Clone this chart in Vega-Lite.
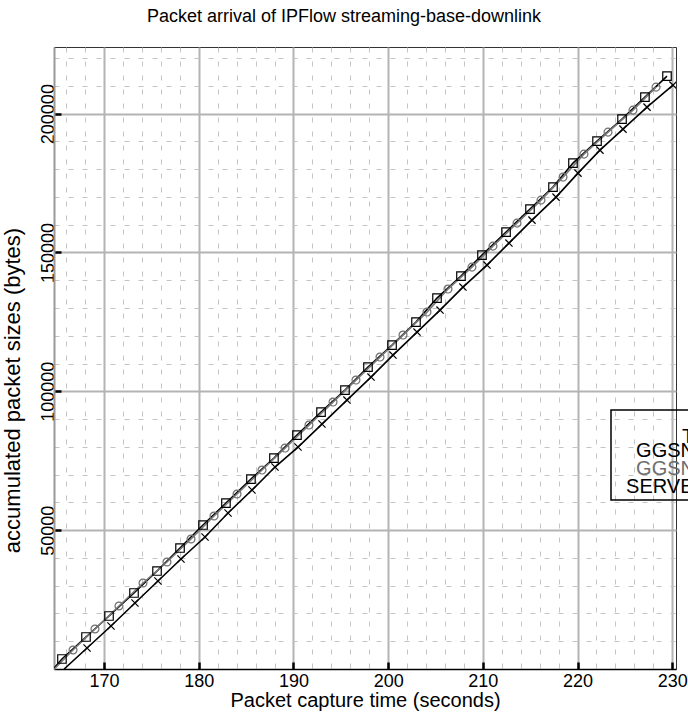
{
  "$schema": "https://vega.github.io/schema/vega-lite/v6.json",
  "width": 622,
  "height": 622,
  "autosize": {"type": "none"},
  "padding": {"left": 54, "top": 47, "right": 12, "bottom": 44},
  "background": "white",
  "config": {
    "font": "Liberation Sans",
    "view": {"stroke": "#333333", "strokeWidth": 1},
    "legend": {"strokeWidth": 1.5}
  },
  "title": {
    "text": "Packet arrival of IPFlow streaming-base-downlink",
    "font": "Liberation Sans",
    "fontSize": 18,
    "fontWeight": "normal",
    "color": "black",
    "anchor": "middle",
    "offset": 21,
    "dx": -21
  },
  "data": {
    "values": [
      {"s": "GGSN-1", "t": 164.71, "b": 300},
      {"s": "GGSN-1", "t": 165.55, "b": 3600},
      {"s": "GGSN-1", "t": 168.09, "b": 11522},
      {"s": "GGSN-1", "t": 170.52, "b": 19083},
      {"s": "GGSN-1", "t": 173.16, "b": 27364},
      {"s": "GGSN-1", "t": 175.59, "b": 35285},
      {"s": "GGSN-1", "t": 178.02, "b": 43566},
      {"s": "GGSN-1", "t": 180.45, "b": 51847},
      {"s": "GGSN-1", "t": 182.87, "b": 59768},
      {"s": "GGSN-1", "t": 185.51, "b": 68410},
      {"s": "GGSN-1", "t": 187.94, "b": 75971},
      {"s": "GGSN-1", "t": 190.37, "b": 84252},
      {"s": "GGSN-1", "t": 192.91, "b": 92533},
      {"s": "GGSN-1", "t": 195.44, "b": 100454},
      {"s": "GGSN-1", "t": 197.87, "b": 108735},
      {"s": "GGSN-1", "t": 200.41, "b": 116656},
      {"s": "GGSN-1", "t": 202.94, "b": 124937},
      {"s": "GGSN-1", "t": 205.16, "b": 133579},
      {"s": "GGSN-1", "t": 207.69, "b": 141500},
      {"s": "GGSN-1", "t": 209.91, "b": 149061},
      {"s": "GGSN-1", "t": 212.45, "b": 157342},
      {"s": "GGSN-1", "t": 214.98, "b": 165623},
      {"s": "GGSN-1", "t": 217.41, "b": 173544},
      {"s": "GGSN-1", "t": 219.52, "b": 182185},
      {"s": "GGSN-1", "t": 222.06, "b": 190106},
      {"s": "GGSN-1", "t": 224.70, "b": 198028},
      {"s": "GGSN-1", "t": 227.12, "b": 205949},
      {"s": "GGSN-1", "t": 229.45, "b": 213510},
      {"s": "GGSN-2", "t": 164.74, "b": 0},
      {"s": "GGSN-2", "t": 166.72, "b": 6841},
      {"s": "GGSN-2", "t": 169.04, "b": 14402},
      {"s": "GGSN-2", "t": 171.57, "b": 22683},
      {"s": "GGSN-2", "t": 174.11, "b": 30964},
      {"s": "GGSN-2", "t": 176.64, "b": 38525},
      {"s": "GGSN-2", "t": 179.18, "b": 46807},
      {"s": "GGSN-2", "t": 181.61, "b": 55088},
      {"s": "GGSN-2", "t": 184.04, "b": 63009},
      {"s": "GGSN-2", "t": 186.68, "b": 71650},
      {"s": "GGSN-2", "t": 189.11, "b": 79571},
      {"s": "GGSN-2", "t": 191.64, "b": 87852},
      {"s": "GGSN-2", "t": 194.18, "b": 96133},
      {"s": "GGSN-2", "t": 196.60, "b": 104054},
      {"s": "GGSN-2", "t": 199.14, "b": 112336},
      {"s": "GGSN-2", "t": 201.57, "b": 120257},
      {"s": "GGSN-2", "t": 204.10, "b": 128538},
      {"s": "GGSN-2", "t": 206.32, "b": 136819},
      {"s": "GGSN-2", "t": 208.85, "b": 144740},
      {"s": "GGSN-2", "t": 211.07, "b": 152301},
      {"s": "GGSN-2", "t": 213.61, "b": 160582},
      {"s": "GGSN-2", "t": 216.14, "b": 168863},
      {"s": "GGSN-2", "t": 218.47, "b": 177145},
      {"s": "GGSN-2", "t": 220.68, "b": 185426},
      {"s": "GGSN-2", "t": 223.22, "b": 193347},
      {"s": "GGSN-2", "t": 225.86, "b": 201268},
      {"s": "GGSN-2", "t": 228.29, "b": 209549},
      {"s": "SERVER", "t": 165.78, "b": 0},
      {"s": "SERVER", "t": 168.20, "b": 7561},
      {"s": "SERVER", "t": 170.73, "b": 15482},
      {"s": "SERVER", "t": 173.26, "b": 23763},
      {"s": "SERVER", "t": 175.69, "b": 31684},
      {"s": "SERVER", "t": 178.12, "b": 39606},
      {"s": "SERVER", "t": 180.66, "b": 47527},
      {"s": "SERVER", "t": 183.09, "b": 56168},
      {"s": "SERVER", "t": 185.62, "b": 64449},
      {"s": "SERVER", "t": 188.05, "b": 72730},
      {"s": "SERVER", "t": 190.48, "b": 79931},
      {"s": "SERVER", "t": 193.01, "b": 88212},
      {"s": "SERVER", "t": 195.65, "b": 96853},
      {"s": "SERVER", "t": 198.19, "b": 105135},
      {"s": "SERVER", "t": 200.51, "b": 113056},
      {"s": "SERVER", "t": 203.05, "b": 121337},
      {"s": "SERVER", "t": 205.48, "b": 129258},
      {"s": "SERVER", "t": 207.90, "b": 137539},
      {"s": "SERVER", "t": 210.44, "b": 145460},
      {"s": "SERVER", "t": 212.76, "b": 153381},
      {"s": "SERVER", "t": 215.19, "b": 161662},
      {"s": "SERVER", "t": 217.73, "b": 169944},
      {"s": "SERVER", "t": 220.05, "b": 178585},
      {"s": "SERVER", "t": 222.37, "b": 186866},
      {"s": "SERVER", "t": 224.80, "b": 194427},
      {"s": "SERVER", "t": 227.34, "b": 202348},
      {"s": "SERVER", "t": 230.08, "b": 210269}
    ]
  },
  "encoding": {
    "x": {
      "field": "t",
      "type": "quantitative",
      "scale": {"domain": [164.71, 230.4], "nice": false, "zero": false},
      "axis": {
        "orient": "bottom",
        "values": [166, 168, 170, 172, 174, 176, 178, 180, 182, 184, 186, 188, 190, 192, 194, 196, 198, 200, 202, 204, 206, 208, 210, 212, 214, 216, 218, 220, 222, 224, 226, 228, 230],
        "title": "Packet capture time (seconds)",
        "titleFont": "Liberation Sans",
        "titleFontSize": 20,
        "titleFontWeight": "normal",
        "titleColor": "black",
        "titleBaseline": "alphabetic",
        "titleY": 37,
        "labelExpr": "datum.value % 10 === 0 ? datum.label : ''",
        "labelFont": "Liberation Sans",
        "labelFontSize": 18,
        "labelColor": "black",
        "labelFlush": false,
        "labelOverlap": false,
        "labelBaseline": "top",
        "labelPadding": 10,
        "tickSize": -7,
        "tickWidth": 2.5,
        "tickColor": "black",
        "tickOpacity": {"condition": {"test": "datum.value % 10 !== 0", "value": 0}, "value": 1},
        "grid": true,
        "gridColor": {"condition": {"test": "datum.value % 10 === 0", "value": "#b4b4b4"}, "value": "#c4c4c4"},
        "gridWidth": {"condition": {"test": "datum.value % 10 === 0", "value": 2}, "value": 1},
        "gridDash": {"condition": {"test": "datum.value % 10 === 0", "value": []}, "value": [5, 9]},
        "domainColor": "black",
        "domainWidth": 1.5
      }
    },
    "y": {
      "field": "b",
      "type": "quantitative",
      "scale": {"domain": [0, 224000], "nice": false},
      "axis": {
        "orient": "left",
        "values": [10000, 20000, 30000, 40000, 50000, 60000, 70000, 80000, 90000, 100000, 110000, 120000, 130000, 140000, 150000, 160000, 170000, 180000, 190000, 200000, 210000, 220000],
        "format": "d",
        "title": "accumulated packet sizes (bytes)",
        "titleFont": "Liberation Sans",
        "titleFontSize": 22,
        "titleFontWeight": "normal",
        "titleColor": "black",
        "titleAngle": 270,
        "titleAlign": "center",
        "titleBaseline": "alphabetic",
        "titleX": -35,
        "titleY": 343,
        "labelExpr": "datum.value % 50000 === 0 ? datum.label : ''",
        "labelFont": "Liberation Sans",
        "labelFontSize": 18,
        "labelColor": "black",
        "labelAngle": 270,
        "labelAlign": "center",
        "labelBaseline": "alphabetic",
        "labelFlush": false,
        "labelOverlap": false,
        "labelPadding": 8,
        "tickSize": -7,
        "tickWidth": 2.5,
        "tickColor": "black",
        "tickOpacity": {"condition": {"test": "datum.value % 50000 !== 0", "value": 0}, "value": 1},
        "grid": true,
        "gridColor": {"condition": {"test": "datum.value % 50000 === 0", "value": "#b4b4b4"}, "value": "#c4c4c4"},
        "gridWidth": {"condition": {"test": "datum.value % 50000 === 0", "value": 2}, "value": 1},
        "gridDash": {"condition": {"test": "datum.value % 50000 === 0", "value": []}, "value": [5, 9]},
        "domainColor": "#999999",
        "domainWidth": 2
      }
    }
  },
  "layer": [
    {
      "mark": {"type": "line", "strokeWidth": 1.6, "clip": true},
      "encoding": {
        "color": {
          "field": "s",
          "type": "nominal",
          "scale": {"domain": ["GGSN-1", "GGSN-2", "SERVER"], "range": ["#000000", "#7a7a7a", "#000000"]},
          "legend": {
            "orient": "none",
            "legendX": 557,
            "legendY": 363,
            "title": ["", "Type"],
            "titleFont": "Liberation Sans",
            "titleFontSize": 20,
            "titleFontWeight": "normal",
            "titleColor": "black",
            "titleLineHeight": 14.5,
            "titleAnchor": "start",
            "titleAlign": "left",
            "titlePadding": -3,
            "labelFont": "Liberation Sans",
            "labelFontSize": 20,
            "labelAlign": "right",
            "labelOffset": 62,
            "labelExpr": "datum.value === 'SERVER' ? 'SERVER' : 'GGSN'",
            "symbolOpacity": 0,
            "symbolSize": 1,
            "symbolStrokeWidth": 0,
            "clipHeight": 15.5,
            "rowPadding": -3.75,
            "strokeColor": "black",
            "padding": 2,
            "encode": {
              "title": {"update": {"dx": {"value": 69}}},
              "labels": {"update": {
                "fill": {"signal": "datum.value === 'GGSN-2' ? '#6e6e6e' : '#000000'"},
                "dx": {"signal": "datum.value === 'SERVER' ? 13 : 0"}
              }}
            }
          }
        }
      }
    },
    {
      "transform": [{"filter": "datum.b > 1000"}],
      "mark": {"type": "point", "filled": false, "strokeWidth": 1.2, "opacity": 1, "clip": true},
      "encoding": {
        "stroke": {
          "field": "s",
          "type": "nominal",
          "scale": {"domain": ["GGSN-1", "GGSN-2", "SERVER"], "range": ["#000000", "#6e6e6e", "#000000"]},
          "legend": null
        },
        "shape": {
          "field": "s",
          "type": "nominal",
          "scale": {"domain": ["GGSN-1", "GGSN-2", "SERVER"], "range": ["square", "circle", "M-1,-1L1,1M1,-1L-1,1"]},
          "legend": null
        },
        "size": {
          "field": "s",
          "type": "nominal",
          "scale": {"domain": ["GGSN-1", "GGSN-2", "SERVER"], "range": [72, 52, 90]},
          "legend": null
        }
      }
    }
  ]
}
